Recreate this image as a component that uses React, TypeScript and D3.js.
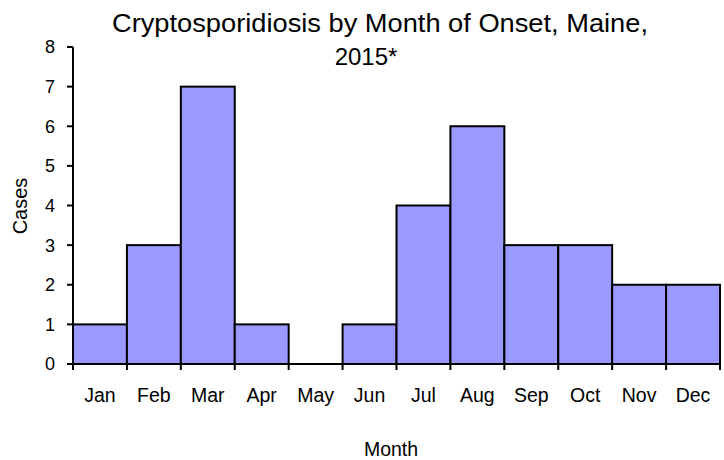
import React from "react";
import * as d3 from "d3";

const months = ["Jan", "Feb", "Mar", "Apr", "May", "Jun", "Jul", "Aug", "Sep", "Oct", "Nov", "Dec"];
const cases = [1, 3, 7, 1, 0, 1, 4, 6, 3, 3, 2, 2];
const yTicks = [0, 1, 2, 3, 4, 5, 6, 7, 8];

const width = 724;
const height = 460;
const margin = { top: 47, right: 4, bottom: 96, left: 73 };

export default function App() {
  const x = d3
    .scaleBand<string>()
    .domain(months)
    .range([margin.left, width - margin.right])
    .padding(0);

  const y = d3
    .scaleLinear()
    .domain([0, 8])
    .range([height - margin.bottom, margin.top]);

  const font = "'Liberation Sans', Arial, sans-serif";
  const y0 = y(0);
  const bounds = [...months.map((m) => x(m) as number), width - margin.right];

  return (
    <svg
      width={width}
      height={height}
      style={{ position: "fixed", left: 0, top: 0, background: "#fff" }}
      fontFamily={font}
    >
      {/* bars */}
      {months.map((m, i) =>
        cases[i] > 0 ? (
          <rect
            key={m}
            x={x(m)}
            y={y(cases[i])}
            width={x.bandwidth()}
            height={y0 - y(cases[i])}
            fill="#9999FF"
            stroke="#000"
            strokeWidth={2}
          />
        ) : null
      )}

      {/* y axis */}
      <line x1={margin.left} x2={margin.left} y1={y(8)} y2={y0} stroke="#000" strokeWidth={2} />
      {yTicks.map((t) => (
        <g key={t}>
          <line x1={margin.left - 6} x2={margin.left} y1={y(t)} y2={y(t)} stroke="#000" strokeWidth={2} />
          <text x={55} y={y(t)} dy="0.36em" textAnchor="end" fontSize={18}>
            {t}
          </text>
        </g>
      ))}

      {/* x axis */}
      <line x1={margin.left} x2={width - margin.right} y1={y0} y2={y0} stroke="#000" strokeWidth={2} />
      {bounds.map((b, i) => (
        <line key={i} x1={b} x2={b} y1={y0} y2={y0 + 6} stroke="#000" strokeWidth={2} />
      ))}
      {months.map((m) => (
        <text
          key={m}
          x={(x(m) as number) + x.bandwidth() / 2}
          y={402}
          textAnchor="middle"
          fontSize={19.5}
        >
          {m}
        </text>
      ))}

      {/* axis titles */}
      <text x={391} y={456} textAnchor="middle" fontSize={19.5}>
        Month
      </text>
      <text transform="translate(27,206) rotate(-90)" textAnchor="middle" fontSize={20}>
        Cases
      </text>

      {/* title */}
      <text x={380} y={32} textAnchor="middle" fontSize={25} textLength={536} lengthAdjust="spacingAndGlyphs">
        Cryptosporidiosis by Month of Onset, Maine,
      </text>
      <text x={366} y={65} textAnchor="middle" fontSize={24}>
        2015*
      </text>
    </svg>
  );
}
